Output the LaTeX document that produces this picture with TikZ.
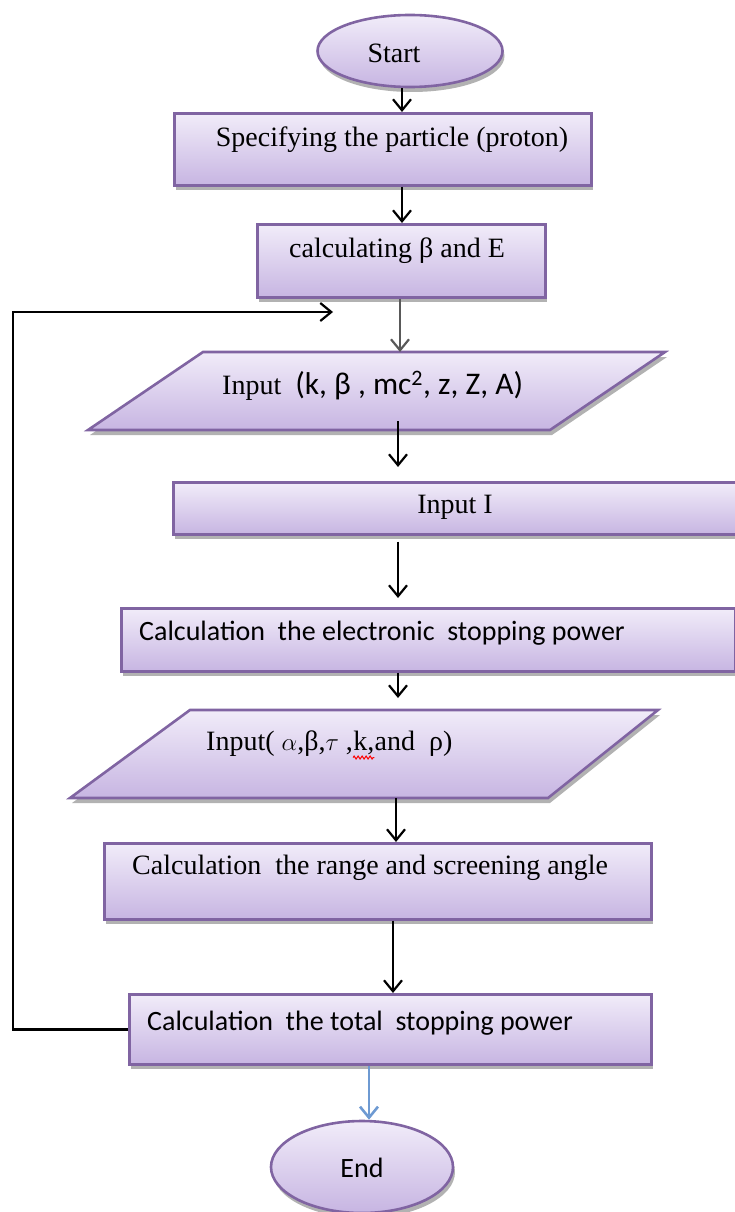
\documentclass[tikz,border=0pt]{standalone}
\usepackage{fontspec}
\setmainfont{Liberation Serif}
\newfontfamily\calibri{Carlito}
\usetikzlibrary{shapes.geometric,arrows.meta,shadows,decorations.pathmorphing}
\definecolor{pborder}{HTML}{8064A2}
\definecolor{ptop}{HTML}{F1ECF9}
\definecolor{pbot}{HTML}{C7B5E2}
\definecolor{arrblue}{HTML}{6E9AD2}
\tikzset{
  proc/.style={draw=pborder, line width=2.6pt, top color=ptop, bottom color=pbot,
    drop shadow={shadow xshift=2pt, shadow yshift=-5pt, fill=black, opacity=0.3}},
  boxnode/.style={proc, rectangle, anchor=north west, inner sep=0pt},
  txt/.style={font=\fontsize{28}{32}\selectfont, inner sep=0pt},
  conn/.style={draw=black, line width=2.6pt, -{Straight Barb[length=11pt,width=18pt,line width=2.2pt]}},
}
\begin{document}
\begin{tikzpicture}[x=1pt,y=-1pt]
\useasboundingbox (0,0) rectangle (735,1212);
% shapes
\node[proc, ellipse, minimum width=185pt, minimum height=72pt, inner sep=0pt] (start) at (410,51) {};
\node[txt] (tstart) at (394,53) {Start};

\node[boxnode, minimum width=417pt, minimum height=72pt] (b1) at (173,112) {};
\node[txt] (tb1) at (392,140) {Specifying the particle (proton)};

\node[boxnode, minimum width=288pt, minimum height=73pt] (b2) at (256,223) {};
\node[txt] (tb2) at (397,251) {calculating β and E};

\path[proc] (203,352) -- (665,352) -- (550,430) -- (88,430) -- cycle;
\coordinate (p1top) at (400,352);
\coordinate (p1bot) at (398,421);
\node[txt, anchor=west] (tp1) at (222,386) {Input\ \ {\calibri\fontsize{31.5}{34}\selectfont(k, β , mc\textsuperscript{2}, z, Z, A)}};

\node[boxnode, minimum width=580pt, minimum height=52pt] (inI) at (172,481) {};
\node[txt] (tinI) at (455,507) {Input I};

\node[boxnode, minimum width=614pt, minimum height=63pt] (calc1) at (120,607) {};
\node[txt, anchor=west] (tc1) at (139,633) {\calibri Calculation\ \ the electronic\ \ stopping power};

\path[proc] (190,710) -- (658,710) -- (548,798) -- (70,798) -- cycle;
\coordinate (p2top) at (398,710);
\coordinate (p2bot) at (396,798);
\node[txt, anchor=base west] (tp2a) at (206,750) {Input( $\alpha$,β,$\tau$ ,};
\node[txt, anchor=base west] (tp2b) at (tp2a.base east) {k,};
\node[txt, anchor=base west] (tp2c) at (tp2b.base east) {and\ \ ρ)};
\draw[red, line width=1pt, decorate, decoration={zigzag, amplitude=1.5pt, segment length=4pt}] ([yshift=-3pt]tp2b.south west) -- ([yshift=-3pt]tp2b.south east);

\node[boxnode, minimum width=547pt, minimum height=76pt] (calc2) at (103,842) {};
\node[txt, anchor=west] (tc2) at (132,868) {Calculation\ \ the range and screening angle};

\node[boxnode, minimum width=522pt, minimum height=70pt] (calc3) at (128,993) {};
\node[txt, anchor=west] (tc3) at (147,1023) {\calibri Calculation\ \ the total\ \ stopping power};

\node[proc, ellipse, minimum width=182pt, minimum height=92pt, inner sep=0pt] (endn) at (362,1167) {};
\node[txt] (tend) at (362,1168) {\calibri End};

% connectors
\coordinate (x402) at (402,0);
\coordinate (x398) at (398,0);
\coordinate (x396) at (396,0);
\coordinate (x393) at (393,0);
\coordinate (x369) at (369,0);
\coordinate (x400) at (400,0);
\coordinate (x13) at (13,0);
\draw[conn] (start.south -| x402) -- (b1.north -| x402);
\draw[conn] (b1.south -| x402) -- (b2.north -| x402);
\draw[conn, draw=black!65] (b2.south -| x400) -- (p1top);
\draw[conn] (p1bot) -- ([yshift=14pt]inI.north -| x398);
\draw[conn] ([yshift=-6pt]inI.south -| x398) -- ([yshift=9pt]calc1.north -| x398);
\draw[conn] (calc1.south -| x398) -- ([yshift=12pt]p2top);
\draw[conn] (p2bot) -- (calc2.north -| x396);
\draw[conn] (calc2.south -| x393) -- (calc3.north -| x393);
\draw[draw=arrblue, line width=2.8pt, -{Straight Barb[length=11pt,width=18pt,line width=2.6pt]}] (calc3.south -| x369) -- (endn.north -| x369);
\coordinate (loopend) at (333,312);
\draw[conn] (calc3.west) -- (calc3.west -| x13) |- (loopend);
\end{tikzpicture}
\end{document}
